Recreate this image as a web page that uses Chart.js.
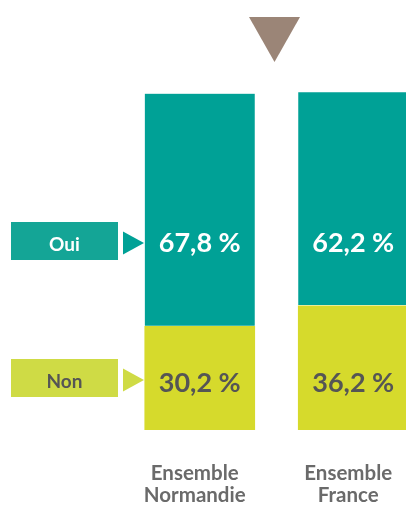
<!DOCTYPE html>
<html>
<head>
<meta charset="utf-8">
<script src="https://cdn.jsdelivr.net/npm/chart.js@4.4.1/dist/chart.umd.min.js"></script>
<style>
  html, body { margin: 0; padding: 0; background: #fff; overflow: hidden; width: 406px; height: 505px; }
  #wrap { width: 431px; height: 505px; }
</style>
</head>
<body>
<div id="wrap"><canvas id="chart" width="431" height="505"></canvas></div>
<script>
// Data
const categories = [["Ensemble", "Normandie"], ["Ensemble", "France"]];
const seriesNames = ["Oui", "Non"];
const ouiValues = [67.8, 62.2];
const nonValues = [30.2, 36.2];

const TEAL = '#00a196';
const LIME = '#d6da2c';
const DARK = '#555555';

// Draws the legend tags on the left, the marker triangle and the value labels
const decorations = {
  id: 'decorations',
  afterDatasetsDraw(chart) {
    const ctx = chart.ctx;
    ctx.save();

    // brown marker on top, between the two bars
    ctx.fillStyle = '#9b8577';
    ctx.beginPath();
    ctx.moveTo(249, 17);
    ctx.lineTo(300, 17);
    ctx.lineTo(274.5, 62);
    ctx.closePath();
    ctx.fill();

    const rows = [
      { name: seriesNames[0], box: '#14a596', arrow: TEAL, text: '#fff', top: 222, values: ouiValues, valueColor: '#fff', base: 252 },
      { name: seriesNames[1], box: '#cfdb45', arrow: '#cfdb45', text: DARK, top: 359, values: nonValues, valueColor: DARK, base: 391.5 }
    ];

    rows.forEach(r => {
      ctx.fillStyle = r.box;
      ctx.fillRect(11, r.top, 107, 38);
      ctx.fillStyle = r.arrow;
      ctx.beginPath();
      ctx.moveTo(123, r.top + 9.5);
      ctx.lineTo(144, r.top + 21);
      ctx.lineTo(123, r.top + 32.5);
      ctx.closePath();
      ctx.fill();

      ctx.fillStyle = r.text;
      ctx.font = 'bold 19px Lato';
      ctx.textAlign = 'center';
      ctx.textBaseline = 'alphabetic';
      ctx.fillText(r.name, 64.5, r.top + 29);
    });

    // value labels, centred on each bar
    const meta = chart.getDatasetMeta(0);
    rows.forEach(r => {
      ctx.fillStyle = r.valueColor;
      ctx.font = 'bold 27px Lato';
      ctx.textAlign = 'center';
      ctx.textBaseline = 'alphabetic';
      r.values.forEach((v, i) => {
        const x = meta.data[i].x;
        ctx.fillText(v.toFixed(1).replace('.', ',') + ' %', x, r.base);
      });
    });

    ctx.restore();
  }
};

new Chart(document.getElementById('chart'), {
  type: 'bar',
  data: {
    labels: categories,
    datasets: [
      { label: seriesNames[1], data: nonValues, backgroundColor: LIME, barThickness: 110, borderWidth: 0 },
      { label: seriesNames[0], data: ouiValues, backgroundColor: TEAL, barThickness: 110,
        borderColor: '#ffffff', borderWidth: { bottom: 1, top: 0, left: 0, right: 0 }, borderSkipped: false }
    ]
  },
  options: {
    responsive: false,
    animation: false,
    layout: { padding: { left: 123, right: 1, top: 1, bottom: 0 } },
    plugins: { legend: { display: false }, tooltip: { enabled: false } },
    scales: {
      x: {
        stacked: true,
        grid: { display: false, drawTicks: false },
        border: { display: false },
        ticks: {
          color: '#6a6a6a',
          font: { family: 'Lato', weight: 'bold', size: 20.5, lineHeight: 1.06 },
          padding: 33,
          labelOffset: -5,
          maxRotation: 0
        },
        afterFit(scale) { scale.height = 75; }
      },
      y: {
        stacked: true,
        display: false,
        min: 0,
        max: 125
      }
    }
  },
  plugins: [decorations]
});
</script>
</body>
</html>
